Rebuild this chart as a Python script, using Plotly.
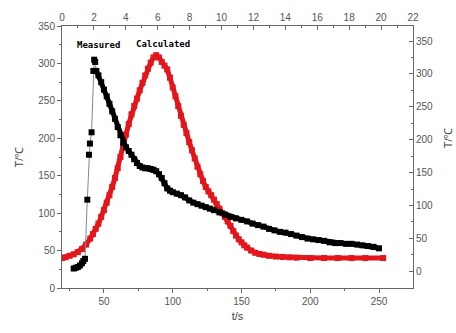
import plotly.graph_objects as go

# Measured series (t in s, T in °C)
meas_t = [28, 29.5, 31, 32.5, 34, 35, 36.2, 37.9, 39.1, 39.8, 41, 42.3, 42.9, 43.6, 44.5,
          46, 48, 50, 52, 54, 56, 58, 60, 62, 64, 66, 68, 70, 72, 74, 76, 78, 80, 82, 84,
          86, 88, 90, 92, 94, 96, 98, 100, 103, 106, 109, 112, 115, 118, 121, 124, 127,
          130, 134, 138, 142, 146, 150, 154, 158, 162, 166, 170, 174, 178, 182, 186, 190,
          194, 198, 202, 206, 210, 214, 218, 222, 226, 230, 234, 238, 242, 246, 250]
meas_T = [26, 27, 28, 30, 33, 36, 39, 118, 178, 193, 208, 290, 305, 302, 290,
          284, 275, 265, 256, 246, 236, 226, 215, 204, 194, 188, 183, 178, 172, 167,
          163, 161, 160, 160, 159, 158, 156, 152, 147, 140, 133, 130, 128, 126, 124,
          121, 117, 114, 112, 110, 108, 106, 104, 101, 98, 95, 93, 91, 89, 86, 84, 82,
          79, 77, 75, 74, 72, 70, 68, 66, 65, 64, 63, 61, 60, 60, 59, 59, 58, 57, 56, 55, 53]

# Calculated series
calc_t = [19.5, 22, 25, 28, 31, 34, 37, 40, 42, 44, 46, 48, 50, 52, 54, 56, 58, 60, 62, 64,
          66, 68, 70, 72, 74, 76, 78, 80, 82, 84, 86, 88, 90, 92, 94, 96, 98, 100, 102, 104,
          106, 108, 110, 112, 114, 116, 118, 120, 122, 124, 126, 128, 130, 132, 134, 136,
          138, 140, 142, 144, 146, 148, 150, 152, 154, 157, 160, 163, 166, 170, 175, 180,
          185, 190, 200, 210, 220, 230, 240, 253]
calc_T = [40, 41, 43, 45, 48, 52, 58, 66, 72, 79, 86, 95, 104, 114, 124, 135, 147, 160, 175,
          190, 205, 219, 232, 243, 253, 264, 274, 284, 293, 301, 308, 311, 308, 302, 297,
          292, 281, 268, 256, 243, 230, 218, 207, 195, 184, 173, 162, 152, 143, 135, 129,
          124, 118, 112, 106, 100, 95, 89, 83, 76, 70, 65, 61, 57, 54, 50, 47, 45.5, 44.5,
          43, 42, 41.5, 41, 40.5, 40, 40, 40, 40, 40, 40]

bottom_ticks = [50, 100, 150, 200, 250]
left_ticks = [0, 50, 100, 150, 200, 250, 300, 350]
top_ticks = list(range(0, 24, 2))
right_ticks = [0, 50, 100, 150, 200, 250, 300, 350]

RED = "#e3161b"
AX = "#666666"
TICKFONT = dict(family="Liberation Sans, Arial", size=10, color="#555555")

fig = go.Figure()

# calculated: thick line + squares
fig.add_trace(go.Scatter(x=calc_t, y=calc_T, mode="lines+markers",
                         line=dict(color=RED, width=5),
                         marker=dict(symbol="square", size=6, color=RED),
                         showlegend=False, hoverinfo="skip"))

# measured: thin connecting line + squares, thick line over the dense part
fig.add_trace(go.Scatter(x=meas_t, y=meas_T, mode="lines+markers",
                         line=dict(color="#888888", width=1),
                         marker=dict(symbol="square", size=6, color="black"),
                         showlegend=False, hoverinfo="skip"))
start = meas_t.index(44.5)
fig.add_trace(go.Scatter(x=meas_t[start:], y=meas_T[start:], mode="lines",
                         line=dict(color="black", width=5),
                         showlegend=False, hoverinfo="skip"))

# dummy trace so the top and right axes are drawn
fig.add_trace(go.Scatter(x=[0], y=[0], xaxis="x2", yaxis="y2", mode="markers",
                         marker=dict(opacity=0), showlegend=False, hoverinfo="skip"))

axis_common = dict(showgrid=False, zeroline=False, showline=True, linecolor=AX,
                   linewidth=1, tickcolor=AX, tickfont=TICKFONT, mirror=False)

fig.update_layout(
    width=456, height=333,
    margin=dict(l=62, r=43, t=24, b=43),
    paper_bgcolor="white", plot_bgcolor="white",
    xaxis=dict(range=[19.5, 274.7], tickvals=bottom_ticks, ticks="outside", ticklen=4,
               minor=dict(dtick=25, tick0=0, ticks="outside", ticklen=2, tickcolor=AX),
               title=dict(text="t/s", font=dict(family="Liberation Sans, Arial", size=11, color="#444"),
                          standoff=6),
               **axis_common),
    yaxis=dict(range=[0, 350], tickvals=left_ticks, ticks="outside", ticklen=4,
               minor=dict(dtick=25, tick0=0, ticks="outside", ticklen=2, tickcolor=AX),
               title=dict(text="T/℃", font=dict(family="Liberation Sans, Arial", size=11, color="#444"),
                          standoff=12),
               **axis_common),
    xaxis2=dict(range=[0, 22], tickvals=top_ticks, overlaying="x", side="top",
                ticks="inside", ticklen=4,
                minor=dict(dtick=1, tick0=0, ticks="inside", ticklen=2, tickcolor=AX),
                **axis_common),
    yaxis2=dict(range=[-25.5, 373], tickvals=right_ticks, overlaying="y", side="right",
                ticks="inside", ticklen=4,
                minor=dict(dtick=25, tick0=0, ticks="inside", ticklen=2, tickcolor=AX),
                **axis_common),
    annotations=[
        dict(text="<b>Measured</b>", x=98, y=43),
        dict(text="<b>Calculated</b>", x=163, y=42),
        dict(text="T/℃", x=448, y=138, textangle=-90),
    ],
)

# convert pixel-based annotation positions to paper coordinates
pw = 456 - 62 - 43
ph = 333 - 24 - 43
for i, a in enumerate(fig.layout.annotations):
    a.x = (a.x - 62) / pw
    a.y = (333 - 43 - a.y) / ph
    a.xref = "paper"
    a.yref = "paper"
    a.xanchor = "center"
    a.yanchor = "middle"
    a.showarrow = False
    if i < 2:
        a.font = dict(family="DejaVu Sans Mono", size=9, color="black")
    else:
        a.font = dict(family="Liberation Sans, Arial", size=11, color="#444")

fig.write_html("out.html", config={"displayModeBar": False},
               post_script="document.body.style.margin='0';")
